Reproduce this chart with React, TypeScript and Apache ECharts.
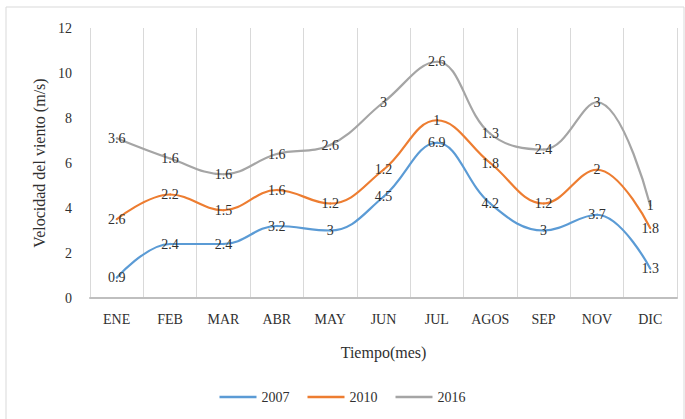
import React, { useEffect, useRef } from "react";
import * as echarts from "echarts";

const months = ["ENE", "FEB", "MAR", "ABR", "MAY", "JUN", "JUL", "AGOS", "SEP", "NOV", "DIC"];
const v2007 = [0.9, 2.4, 2.4, 3.2, 3, 4.5, 6.9, 4.2, 3, 3.7, 1.3];
const v2010 = [2.6, 2.2, 1.5, 1.6, 1.2, 1.2, 1, 1.8, 1.2, 2, 1.8];
const v2016 = [3.6, 1.6, 1.6, 1.6, 2.6, 3, 2.6, 1.3, 2.4, 3, 1];
const seriesNames = ["2007", "2010", "2016"];
const colors = ["#5B9BD5", "#ED7D31", "#A5A5A5"];

const FONT = "Times New Roman";
const TXT = "#303030";

export default function App() {
  const ref = useRef<HTMLDivElement>(null);
  useEffect(() => {
    if (!ref.current) return;
    const chart = echarts.init(ref.current, null, { renderer: "svg" });
    const dataSets = [v2007, v2010, v2016];
    chart.setOption({
      animation: false,
      backgroundColor: "#ffffff",
      textStyle: { fontFamily: FONT },
      graphic: [
        {
          type: "rect",
          shape: { x: 6, y: 7, width: 678, height: 420 },
          style: { fill: "none", stroke: "#d9d9d9", lineWidth: 1 },
          silent: true,
        },
      ],
      grid: { left: 90, right: 8, top: 28, bottom: 121 },
      legend: {
        top: 385,
        left: "center",
        icon: "rect",
        itemWidth: 37,
        itemHeight: 2.5,
        itemGap: 18,
        data: seriesNames.map((n, i) => ({ name: n, itemStyle: { color: colors[i] } })),
        textStyle: { fontFamily: FONT, fontSize: 14, color: TXT },
      },
      xAxis: {
        type: "category",
        data: months,
        boundaryGap: true,
        name: "Tiempo(mes)",
        nameLocation: "middle",
        nameGap: 46,
        nameTextStyle: { fontFamily: FONT, fontSize: 16, color: TXT },
        axisLine: { show: true, lineStyle: { color: "#bfbfbf", width: 2 } },
        axisTick: { show: false },
        axisLabel: { fontFamily: FONT, fontSize: 14, color: TXT, margin: 14, interval: 0 },
        splitLine: { show: true, interval: 0, lineStyle: { color: "#d9d9d9", width: 1 } },
      },
      yAxis: {
        type: "value",
        min: 0,
        max: 12,
        interval: 2,
        name: "Velocidad del viento (m/s)",
        nameLocation: "middle",
        nameGap: 39,
        nameTextStyle: { fontFamily: FONT, fontSize: 16, color: TXT },
        axisLine: { show: false },
        axisTick: { show: false },
        axisLabel: { fontFamily: FONT, fontSize: 14, color: TXT, margin: 18 },
        splitLine: { show: false },
      },
      series: dataSets.map((d, i) => ({
        name: seriesNames[i],
        type: "line",
        stack: "total",
        data: d,
        smooth: 0.4,
        showSymbol: true,
        symbol: "circle",
        symbolSize: 2,
        lineStyle: { color: colors[i], width: 2.2 },
        itemStyle: { color: colors[i] },
        label: {
          show: true,
          position: "inside",
          fontFamily: FONT,
          fontSize: 14,
          color: TXT,
        },
      })),
    });
    return () => chart.dispose();
  }, []);
  return (
    <div
      ref={ref}
      style={{ position: "fixed", left: 0, top: 0, width: 685, height: 419 }}
    />
  );
}
